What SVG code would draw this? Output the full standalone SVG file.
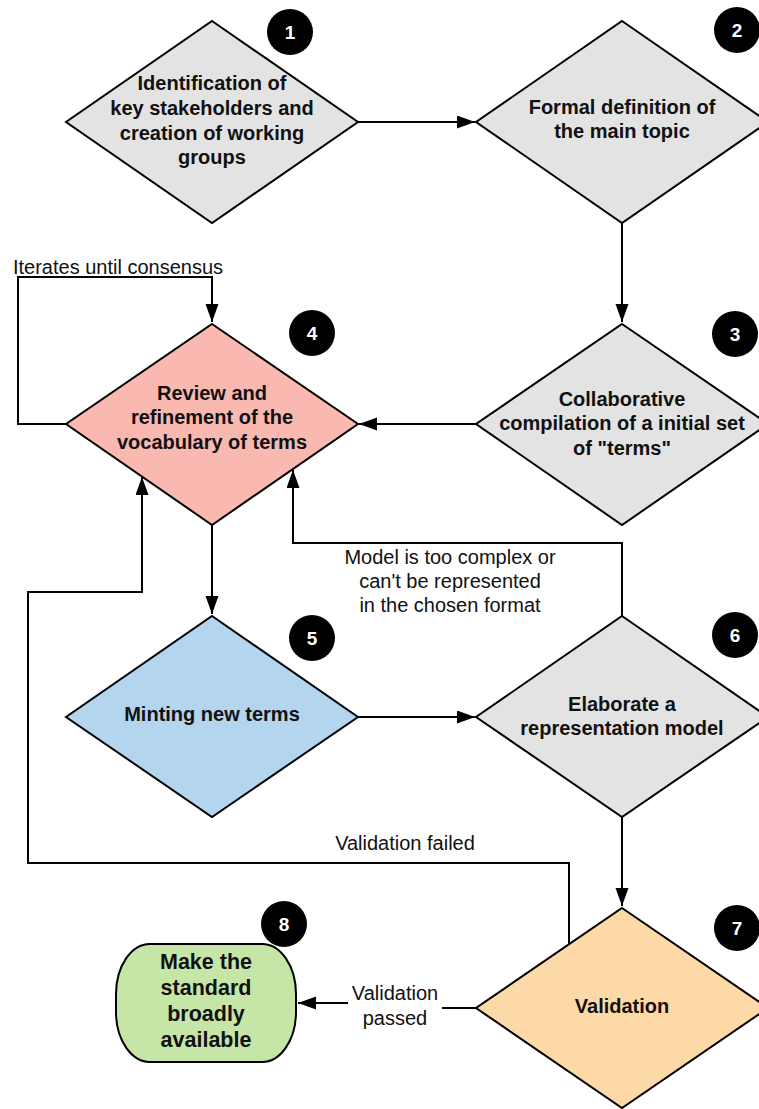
<svg xmlns="http://www.w3.org/2000/svg" width="759" height="1109" viewBox="0 0 759 1109">
<defs>
<marker id="arr" markerUnits="userSpaceOnUse" markerWidth="20" markerHeight="14" refX="18" refY="6.5" orient="auto">
<path d="M0,0 L18,6.5 L0,13 z" fill="#000"/>
</marker>
<style>
.shape{stroke:#000;stroke-width:2;stroke-linejoin:miter}
.grey{fill:#e3e3e3}
.pink{fill:#f9b9b1}
.blue{fill:#b3d5ee}
.orange{fill:#fed9a8}
.green{fill:#c6e6a7}
.nt{font-family:"Liberation Sans",Arial,sans-serif;font-size:20px;font-weight:bold;fill:#111;text-anchor:middle}
.nt8{font-size:21.5px}
.lt{font-family:"Liberation Sans",Arial,sans-serif;font-size:20px;fill:#111;text-anchor:middle}
.badge{fill:#000}
.bt{font-family:"Liberation Sans",Arial,sans-serif;font-size:19px;font-weight:bold;fill:#fff;text-anchor:middle}
.conn{fill:none;stroke:#000;stroke-width:2}
</style>
</defs>
<rect width="759" height="1109" fill="#fff"/>

<g id="connectors">
<path class="conn" d="M357,122 H475" marker-end="url(#arr)"/>
<path class="conn" d="M622,223 V322" marker-end="url(#arr)"/>
<path class="conn" d="M477,424 H359" marker-end="url(#arr)"/>
<path class="conn" d="M67,424 H18 V277 H212 V322" marker-end="url(#arr)"/>
<path class="conn" d="M212,525 V614" marker-end="url(#arr)"/>
<path class="conn" d="M357,717 H475" marker-end="url(#arr)"/>
<path class="conn" d="M622,616 V543 H293 V470" marker-end="url(#arr)"/>
<path class="conn" d="M622,817 V906" marker-end="url(#arr)"/>
<path class="conn" d="M569,944 V863 H28 V592 H142 V477" marker-end="url(#arr)"/>
<path class="conn" d="M477,1008 H398 V1003 H298" marker-end="url(#arr)"/>
<text class="lt" x="118" y="274">Iterates until consensus</text>
<text class="lt" x="450" y="564">Model is too complex or</text>
<text class="lt" x="450" y="588">can't be represented</text>
<text class="lt" x="450" y="612">in the chosen format</text>
<text class="lt" x="405" y="850">Validation failed</text>
<rect x="348" y="980" width="94" height="48" fill="#fff"/>
<text class="lt" x="395" y="1000">Validation</text>
<text class="lt" x="395" y="1025">passed</text>
</g>

<g id="node1">
<polygon class="shape grey" points="212,21 358,122 212,223 66,122"/>
<text class="nt" x="212" y="90">Identification of</text>
<text class="nt" x="212" y="115">key stakeholders and</text>
<text class="nt" x="212" y="140">creation of working</text>
<text class="nt" x="212" y="164">groups</text>
<circle class="badge" cx="290" cy="32" r="23"/>
<text class="bt" x="290" y="39">1</text>
</g>

<g id="node2">
<polygon class="shape grey" points="622,21 768,122 622,223 476,122"/>
<text class="nt" x="622" y="114">Formal definition of</text>
<text class="nt" x="622" y="138">the main topic</text>
<circle class="badge" cx="737" cy="30" r="23"/>
<text class="bt" x="737" y="37">2</text>
</g>

<g id="node3">
<polygon class="shape grey" points="622,324 768,424 622,525 476,424"/>
<text class="nt" x="622" y="406">Collaborative</text>
<text class="nt" x="622" y="430">compilation of a initial set</text>
<text class="nt" x="622" y="455">of "terms"</text>
<circle class="badge" cx="735" cy="334" r="23"/>
<text class="bt" x="735" y="341">3</text>
</g>

<g id="node4">
<polygon class="shape pink" points="212,324 358,424 212,525 66,424"/>
<text class="nt" x="212" y="400">Review and</text>
<text class="nt" x="212" y="424">refinement of the</text>
<text class="nt" x="212" y="449">vocabulary of terms</text>
<circle class="badge" cx="312" cy="333" r="23"/>
<text class="bt" x="312" y="340">4</text>
</g>

<g id="node5">
<polygon class="shape blue" points="212,616 358,717 212,817 66,717"/>
<text class="nt" x="212" y="721">Minting new terms</text>
<circle class="badge" cx="312" cy="638" r="23"/>
<text class="bt" x="312" y="645">5</text>
</g>

<g id="node6">
<polygon class="shape grey" points="622,616 768,717 622,817 476,717"/>
<text class="nt" x="622" y="711">Elaborate a</text>
<text class="nt" x="622" y="735">representation model</text>
<circle class="badge" cx="735" cy="635" r="23"/>
<text class="bt" x="735" y="642">6</text>
</g>

<g id="node7">
<polygon class="shape orange" points="622,908 768,1008 622,1108 476,1008"/>
<text class="nt" x="622" y="1013">Validation</text>
<circle class="badge" cx="737" cy="928" r="23"/>
<text class="bt" x="737" y="935">7</text>
</g>

<g id="node8">
<rect class="shape green" x="116" y="944" width="180" height="118" rx="34" ry="50"/>
<text class="nt nt8" x="206" y="969">Make the</text>
<text class="nt nt8" x="206" y="995">standard</text>
<text class="nt nt8" x="206" y="1021">broadly</text>
<text class="nt nt8" x="206" y="1047">available</text>
<circle class="badge" cx="284" cy="924" r="23"/>
<text class="bt" x="284" y="931">8</text>
</g>
</svg>
